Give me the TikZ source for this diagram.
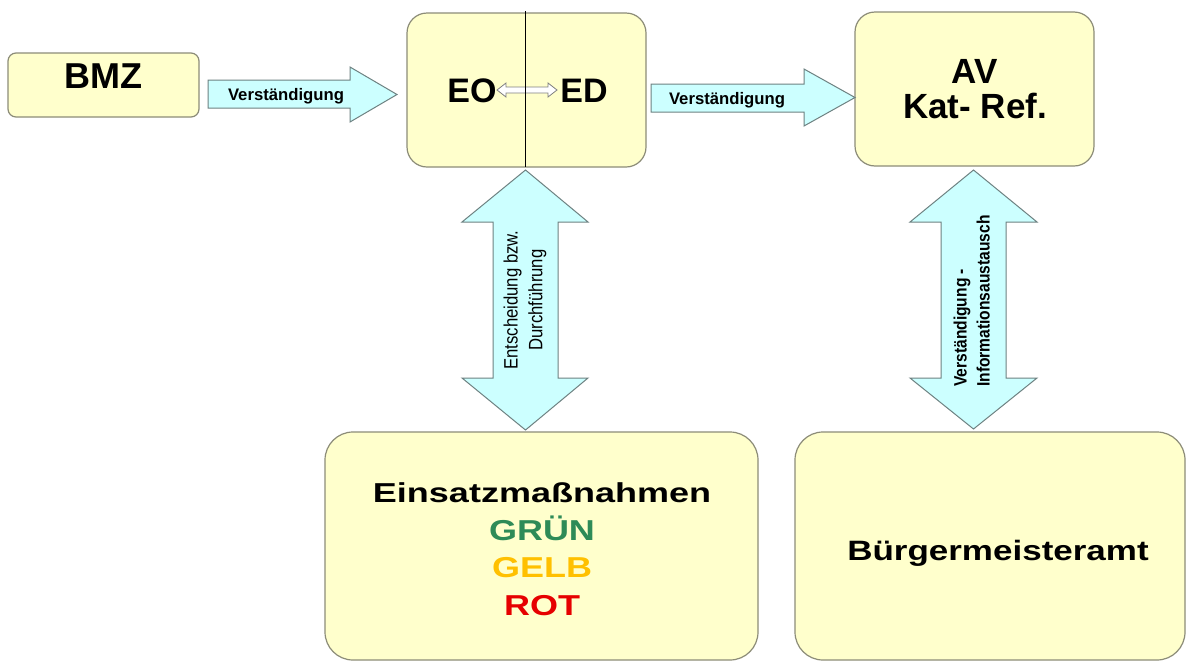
\documentclass[tikz,border=0pt]{standalone}
\usepackage{fontspec}
\setmainfont{Liberation Sans}
\usepackage{graphicx}
\definecolor{boxfill}{RGB}{255,255,204}
\definecolor{boxline}{RGB}{140,140,120}
\definecolor{arrfill}{RGB}{204,255,255}
\definecolor{arrline}{RGB}{110,130,130}
\definecolor{gruen}{RGB}{46,139,87}
\definecolor{gelb}{RGB}{255,192,0}
\definecolor{rot}{RGB}{230,0,0}
\begin{document}
\begin{tikzpicture}[x=1pt,y=-1pt,
  box/.style={draw=boxline, fill=boxfill, line width=1.2pt, inner sep=0pt},
  blk/.style={draw=arrline, fill=arrfill, line width=1pt, line join=miter},
  big/.style={font=\bfseries\fontsize{35}{38}\selectfont, inner sep=0pt, anchor=base},
  small/.style={font=\bfseries\fontsize{16.7}{18}\selectfont, inner sep=0pt, anchor=base},
  vlab/.style={rotate=90, inner sep=0pt, anchor=center}]
\useasboundingbox (0,0) rectangle (1186,662);
\fill[white] (0,0) rectangle (1186,662);

% boxes
\node[box, rounded corners=8, minimum width=191, minimum height=64] (bmz) at (103.5,85) {};
\node[box, rounded corners=20, minimum width=239, minimum height=154] (eoed) at (526.5,90) {};
\node[box, rounded corners=20, minimum width=239, minimum height=154] (av) at (974.5,89) {};
\node[box, rounded corners=28, minimum width=433, minimum height=228] (einsatz) at (541.5,546) {};
\node[box, rounded corners=28, minimum width=390, minimum height=228] (buerger) at (990,546) {};

% block arrows
\draw[blk] (208,80) -- (350,80) -- (350,67) -- (397,94.5) -- (350,122) -- (350,108) -- (208,108) -- cycle;
\draw[blk] (651,84) -- (804,84) -- (804,69) -- (855,97.5) -- (804,126) -- (804,112) -- (651,112) -- cycle;
\draw[blk] (525.5,170) -- (588,222) -- (558,222) -- (558,378) -- (588,378) -- (525.5,430)
  -- (462,378) -- (493,378) -- (493,222) -- (462,222) -- cycle;
\draw[blk] (973.5,170) -- (1037,222) -- (1006,222) -- (1006,378) -- (1037,378) -- (973.5,429)
  -- (910,378) -- (941,378) -- (941,222) -- (910,222) -- cycle;

% small hollow double arrow
\draw[draw=gray, fill=white, line width=0.8pt] (497,90) -- (506,83) -- (506,87) -- (548,87) -- (548,83)
  -- (557,90) -- (548,97) -- (548,93) -- (506,93) -- (506,97) -- cycle;
\draw[line width=1pt] (525,11) -- (525,167);

% texts
\node[big, font=\bfseries\fontsize{36}{38}\selectfont] (tbmz) at (103.5,88) {BMZ};
\node[small] (tv1) at (286,100) {Verständigung};
\node[big, font=\bfseries\fontsize{34}{38}\selectfont] (teo) at (472,102) {EO};
\node[big, font=\bfseries\fontsize{34}{38}\selectfont] (ted) at (584,102) {ED};
\node[small] (tv2) at (727,104) {Verständigung};
\node[big] (tav) at (975,83) {AV};
\node[big] (tkat) at (975,118) {Kat- Ref.};

\node[vlab, font=\fontsize{16.7}{21.5}\selectfont] (tent) at (525,300)
  {\scalebox{1}[1.16]{\begin{tabular}{@{}c@{}}Entscheidung bzw.\\Durchführung\end{tabular}}};
\node[vlab, font=\bfseries\fontsize{15.6}{20}\selectfont] (tinf) at (973.5,301)
  {\scalebox{1}[1.15]{\begin{tabular}{@{}l@{}}Verständigung -\\Informationsaustausch\end{tabular}}};

\node[big, font=\bfseries\fontsize{36}{38}\selectfont] (tein) at (542,502) {\scalebox{1}[0.76]{Einsatzmaßnahmen}};
\node[big, font=\bfseries\fontsize{36}{38}\selectfont, text=gruen] (tgr) at (542,540) {\scalebox{1}[0.8]{GRÜN}};
\node[big, font=\bfseries\fontsize{36}{38}\selectfont, text=gelb] (tge) at (542,577) {\scalebox{1}[0.8]{GELB}};
\node[big, font=\bfseries\fontsize{36}{38}\selectfont, text=rot] (tro) at (542,615) {\scalebox{1}[0.8]{ROT}};
\node[big] (tbg) at (998,560) {\scalebox{1}[0.8]{Bürgermeisteramt}};
\end{tikzpicture}
\end{document}
